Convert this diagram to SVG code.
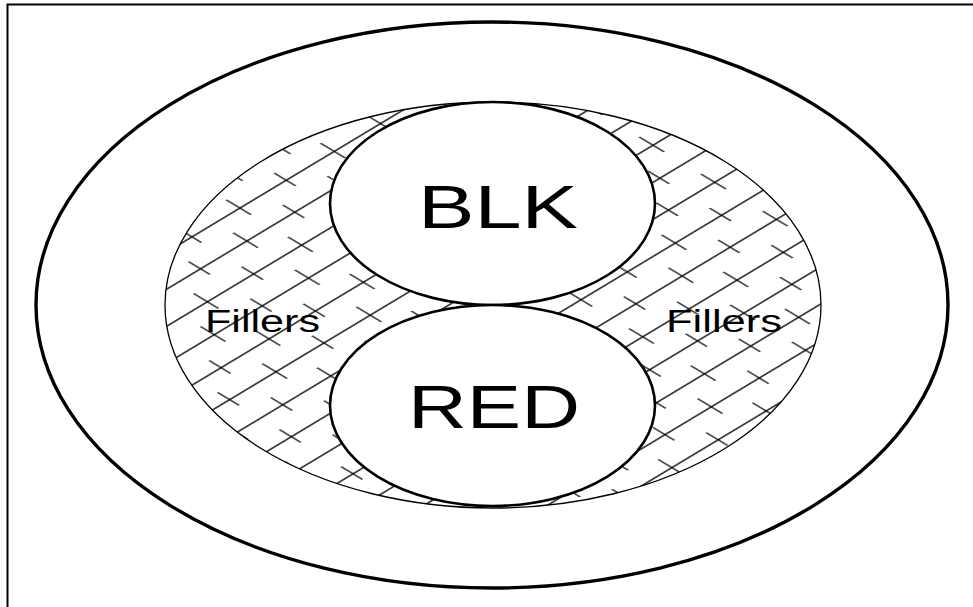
<svg xmlns="http://www.w3.org/2000/svg" width="973" height="607" viewBox="0 0 973 607">
  <style>
    .lbl { font-family: "Liberation Sans", Arial, sans-serif; fill: #000; }
    .big { font-size: 61px; }
    .small { font-size: 31px; }
    .cond { fill: #fff; stroke: #000; stroke-width: 2.6; }
  </style>
  <defs>
    <pattern id="hatch" patternUnits="userSpaceOnUse" width="110" height="72"
             patternTransform="matrix(0.857 -0.515 0.857 0.515 0 0)">
      <g stroke="#000" stroke-width="1.35" fill="none">
        <line x1="0" y1="18" x2="110" y2="18"/>
        <line x1="0" y1="54" x2="110" y2="54"/>
        <line x1="20" y1="2" x2="20" y2="31"/>
        <line x1="76" y1="4" x2="76" y2="29"/>
        <line x1="48" y1="38" x2="48" y2="67"/>
        <line x1="102" y1="40" x2="102" y2="65"/>
      </g>
    </pattern>
  </defs>
  <rect id="frame" x="7.5" y="4.5" width="975" height="615" fill="#fff" stroke="#000" stroke-width="2"/>
  <g id="jacket">
    <ellipse cx="492" cy="305" rx="456" ry="283" fill="none" stroke="#000" stroke-width="3.4"/>
  </g>
  <g id="fillers">
    <ellipse cx="493" cy="305" rx="328" ry="203" fill="url(#hatch)" stroke="#000" stroke-width="1.3"/>
    <text class="lbl small" x="205" y="332" textLength="115" lengthAdjust="spacingAndGlyphs">Fillers</text>
    <text class="lbl small" x="666" y="332" textLength="116" lengthAdjust="spacingAndGlyphs">Fillers</text>
  </g>
  <g id="blk">
    <ellipse class="cond" cx="492.5" cy="203.5" rx="162.5" ry="101.5"/>
    <text class="lbl big" x="418" y="228" textLength="160" lengthAdjust="spacingAndGlyphs">BLK</text>
  </g>
  <g id="red">
    <ellipse class="cond" cx="492.5" cy="405.5" rx="162.5" ry="100.5"/>
    <text class="lbl big" x="408" y="428" textLength="172" lengthAdjust="spacingAndGlyphs">RED</text>
  </g>
  <g id="connectors"></g>
</svg>
